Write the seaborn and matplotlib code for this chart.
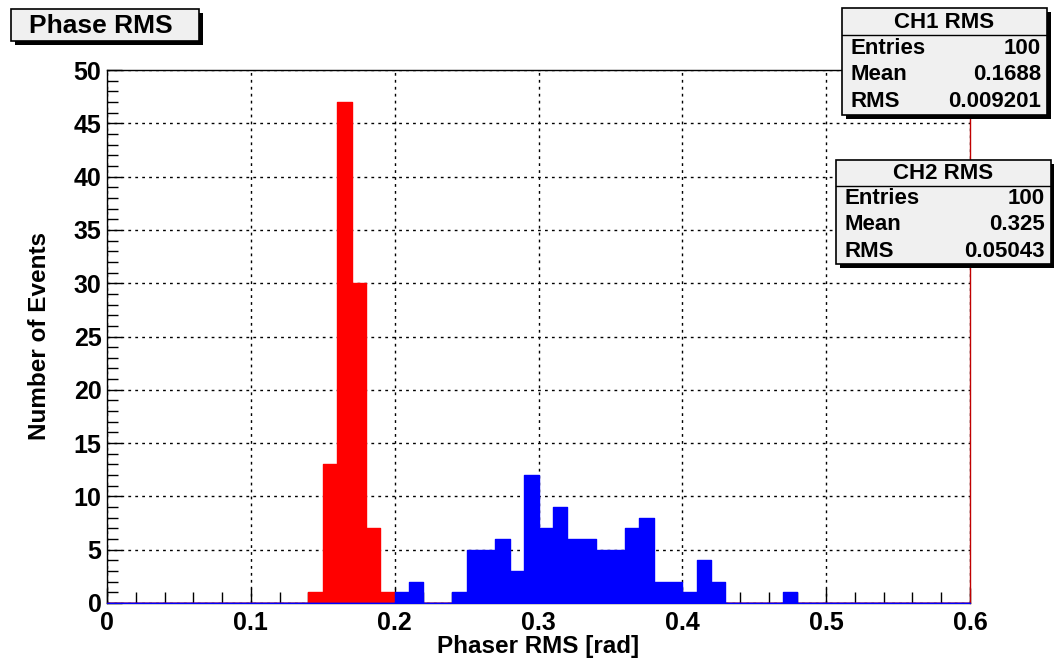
import numpy as np
import pandas as pd
import matplotlib.pyplot as plt
import seaborn as sns
from matplotlib.patches import Rectangle
from matplotlib.ticker import MultipleLocator, FuncFormatter

# Histogram data: 60 bins of width 0.01 between 0 and 0.6
bin_edges = [round(0.01 * i, 2) for i in range(61)]
ch1_counts = [0] * 14 + [1, 13, 47, 30, 7, 1] + [0] * 40
ch2_counts = ([0] * 20 + [1, 2, 0, 0, 1, 5, 5, 6, 3, 12,
                          7, 9, 6, 6, 5, 5, 7, 8, 2, 2,
                          1, 4, 2, 0, 0, 0, 0, 1] + [0] * 12)

ch1_stats = [("Entries", "100"), ("Mean", "0.1688"), ("RMS", "0.009201")]
ch2_stats = [("Entries", "100"), ("Mean", "0.325"), ("RMS", "0.05043")]

centers = np.array(bin_edges[:-1]) + 0.005
df = pd.DataFrame({"x": np.concatenate([centers, centers]),
                   "w": ch1_counts + ch2_counts,
                   "ch": ["CH1"] * 60 + ["CH2"] * 60})

sns.set_style("white")
plt.rcParams['font.family'] = ['Liberation Sans', 'DejaVu Sans']
plt.rcParams['font.weight'] = 'bold'
plt.rcParams['text.color'] = 'black'
plt.rcParams['axes.labelcolor'] = 'black'
plt.rcParams['xtick.color'] = 'black'
plt.rcParams['ytick.color'] = 'black'

fig = plt.figure(figsize=(10.54, 6.58), dpi=100)
ax = fig.add_axes([107 / 1054, 1 - 603 / 658, 863 / 1054, 533 / 658])

for ch, col in [("CH1", "#ff0000"), ("CH2", "#0000ff")]:
    sns.histplot(data=df[df.ch == ch], x="x", weights="w", bins=bin_edges,
                 element="step", fill=True, color=col, alpha=1.0,
                 linewidth=1.0, edgecolor=col, ax=ax, zorder=3)

ax.xaxis.set_major_locator(MultipleLocator(0.1))
ax.xaxis.set_minor_locator(MultipleLocator(0.02))
ax.yaxis.set_major_locator(MultipleLocator(5))
ax.yaxis.set_minor_locator(MultipleLocator(1))
ax.xaxis.set_major_formatter(FuncFormatter(lambda v, p: f"{v:.1f}" if abs(v) > 1e-9 else "0"))
ax.set_xlim(0, 0.6)
ax.set_ylim(0, 50)
ax.tick_params(axis="both", which="both", direction="in", labelsize=18,
               color="black", labelcolor="black",
               bottom=True, left=True, top=False, right=False)
ax.tick_params(axis="both", which="major", length=11, width=1)
ax.tick_params(axis="both", which="minor", length=8, width=1)
ax.tick_params(axis="x", which="major", pad=6)
ax.tick_params(axis="y", which="major", pad=4)
ax.grid(True, which="major", color="black", linestyle=(0, (2, 3)),
        linewidth=1.0, zorder=1)
ax.grid(False, which="minor")
ax.set_axisbelow(True)
for s in ax.spines.values():
    s.set_color("black")
    s.set_linewidth(1)
ax.spines["right"].set_color("#c00000")

ax.set_xlabel("Phaser RMS [rad]", fontsize=17.5, fontweight="bold",
              labelpad=0, color="black")
ax.set_ylabel("Number of Events", fontsize=17.5, fontweight="bold",
              labelpad=16, color="black")


def box(x0, y0, w, h):
    # ROOT-like pave with a drop shadow, coordinates in figure pixels
    W, H = 1054, 658
    fig.patches.append(Rectangle(((x0 + 4) / W, 1 - (y0 + h + 4) / H), w / W, h / H,
                                 transform=fig.transFigure, facecolor="black",
                                 edgecolor="none", zorder=5))
    fig.patches.append(Rectangle((x0 / W, 1 - (y0 + h) / H), w / W, h / H,
                                 transform=fig.transFigure, facecolor="#f0f0f0",
                                 edgecolor="black", linewidth=1.2, zorder=6))


def stat_box(x0, y0, w, h, title, rows):
    W, H = 1054, 658
    box(x0, y0, w, h)
    row_h = h / 4
    fig.add_artist(plt.Line2D([x0 / W, (x0 + w) / W],
                              [1 - (y0 + row_h) / H] * 2,
                              transform=fig.transFigure, color="black",
                              linewidth=1, zorder=7))
    fig.text((x0 + w / 2) / W, 1 - (y0 + row_h / 2 + 1) / H, title, ha="center",
             va="center", fontsize=16, fontweight="bold", zorder=8)
    for i, (k, v) in enumerate(rows):
        yc = 1 - (y0 + row_h * (i + 1.5)) / H
        fig.text((x0 + 8) / W, yc, k, ha="left", va="center",
                 fontsize=16, fontweight="bold", zorder=8)
        fig.text((x0 + w - 6) / W, yc, v, ha="right", va="center",
                 fontsize=16, fontweight="bold", zorder=8)


box(11, 9, 188, 32)
fig.text(101 / 1054, 1 - 26 / 658, "Phase RMS", ha="center", va="center",
         fontsize=19, fontweight="bold", zorder=8)
stat_box(842, 8, 205, 107, "CH1 RMS", ch1_stats)
stat_box(836, 160, 215, 104, "CH2 RMS", ch2_stats)

fig.savefig("out.png", dpi=100, facecolor="white")
